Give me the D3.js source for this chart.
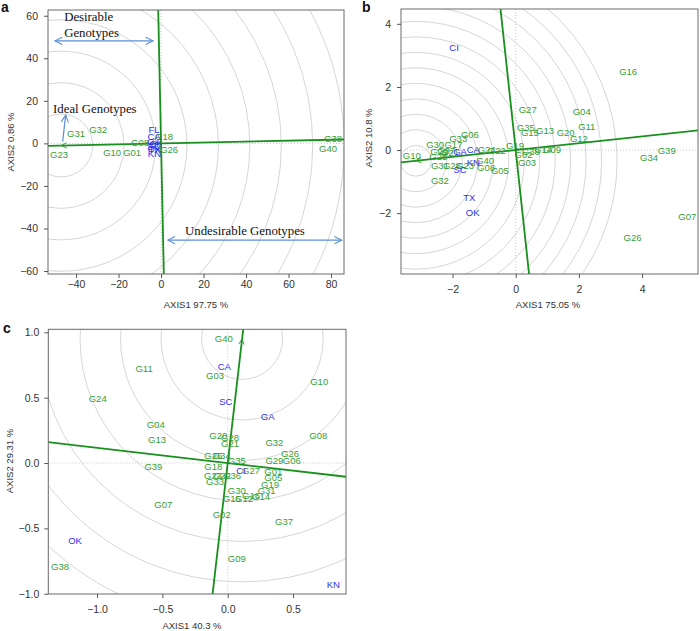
<!DOCTYPE html>
<html><head><meta charset="utf-8">
<script src="https://cdn.jsdelivr.net/npm/d3@7"></script>
<style>body{margin:0;background:#fff}svg{display:block}</style>
</head><body>
<svg id="chart" width="700" height="631"></svg>
<script>
// ---------------- DATA ----------------
// Panel a
const genotypesA = [
  {id:"G31",x:-40,y:4.8},{id:"G32",x:-29.6,y:6.7},{id:"G23",x:-48,y:-5},
  {id:"G10",x:-23,y:-4.5},{id:"G01",x:-13.6,y:-4.5},{id:"G08",x:-9.9,y:0.6},
  {id:"G18",x:1.4,y:3.4},{id:"G26",x:3.8,y:-2.7},{id:"G38",x:81,y:2.5},{id:"G40",x:78.6,y:-2.2}
];
const environmentsA = [
  {id:"FL",x:-3.3,y:6.4},{id:"CA",x:-3.3,y:3.3},{id:"GA",x:-3.3,y:1.1},{id:"CI",x:-3.2,y:-0.2},
  {id:"SC",x:-3.3,y:-1.3},{id:"OK",x:-3.2,y:-2.2},{id:"TX",x:-3.1,y:-3.1},{id:"KN",x:-3.1,y:-4.9}
];
const idealA = [-47, -1.0];
const xTicksA = [-40,-20,0,20,40,60,80];
const yTicksA = [-60,-40,-20,0,20,40,60];
const xTitleA = "AXIS1 97.75 %", yTitleA = "AXIS2 0.86 %";

// Panel b
const genotypesB = [
  {id:"G16",x:3.56,y:2.5},{id:"G27",x:0.38,y:1.28},{id:"G04",x:2.09,y:1.23},{id:"G11",x:2.25,y:0.76},
  {id:"G35",x:0.32,y:0.71},{id:"G15",x:0.45,y:0.54},{id:"G13",x:0.93,y:0.62},{id:"G20",x:1.58,y:0.56},
  {id:"G12",x:2.0,y:0.36},{id:"G39",x:4.78,y:0.0},{id:"G34",x:4.22,y:-0.24},{id:"G07",x:5.43,y:-2.12},
  {id:"G26",x:3.70,y:-2.77},{id:"G19",x:-0.02,y:0.14},{id:"G02",x:0.25,y:-0.14},{id:"G38",x:0.48,y:-0.06},
  {id:"G14",x:0.87,y:0.02},{id:"G09",x:1.15,y:0.01},{id:"G03",x:0.36,y:-0.39},{id:"G10",x:-3.29,y:-0.17},
  {id:"G30",x:-2.55,y:0.17},{id:"G17",x:-1.97,y:0.17},{id:"G33",x:-1.82,y:0.36},{id:"G06",x:-1.45,y:0.50},
  {id:"G24",x:-0.92,y:0.01},{id:"G22",x:-0.60,y:-0.03},{id:"G29",x:-2.42,y:-0.05},{id:"G25",x:-2.45,y:-0.22},
  {id:"G21",x:-2.08,y:-0.07},{id:"G37",x:-2.2,y:-0.02},{id:"G31",x:-2.40,y:-0.50},{id:"G28",x:-2.02,y:-0.48},
  {id:"G23",x:-1.60,y:-0.48},{id:"G40",x:-0.97,y:-0.33},{id:"G08",x:-0.94,y:-0.54},{id:"G05",x:-0.50,y:-0.64},
  {id:"G32",x:-2.40,y:-0.98}
];
const environmentsB = [
  {id:"CI",x:-1.95,y:3.26},{id:"GA",x:-1.76,y:-0.06},{id:"CA",x:-1.34,y:0.02},{id:"SC",x:-1.76,y:-0.61},
  {id:"KN",x:-1.34,y:-0.40},{id:"TX",x:-1.47,y:-1.52},{id:"OK",x:-1.36,y:-1.98}
];
const idealB = [-3.16, -0.34];
const xTicksB = [-2,0,2,4];
const yTicksB = [-2,0,2,4];
const xTitleB = "AXIS1 75.05 %", yTitleB = "AXIS2 10.8 %";

// Panel c
const genotypesC = [
  {id:"G40",x:-0.03,y:0.949},{id:"G03",x:-0.097,y:0.668},{id:"G11",x:-0.64,y:0.725},{id:"G10",x:0.70,y:0.622},
  {id:"G24",x:-0.995,y:0.49},{id:"G04",x:-0.551,y:0.296},{id:"G08",x:0.693,y:0.207},{id:"G13",x:-0.541,y:0.178},
  {id:"G20",x:-0.072,y:0.207},{id:"G28",x:0.018,y:0.197},{id:"G21",x:0.018,y:0.151},{id:"G32",x:0.357,y:0.155},
  {id:"G26",x:0.477,y:0.074},{id:"G06",x:0.490,y:0.023},{id:"G29",x:0.357,y:0.023},{id:"G35",x:0.069,y:0.018},
  {id:"G34",x:-0.046,y:0.061},{id:"G25",x:-0.110,y:0.054},{id:"G18",x:-0.110,y:-0.023},{id:"G39",x:-0.569,y:-0.028},
  {id:"G27",x:0.178,y:-0.061},{id:"G01",x:0.349,y:-0.067},{id:"G05",x:0.349,y:-0.109},{id:"G23",x:-0.112,y:-0.099},
  {id:"G22",x:-0.044,y:-0.099},{id:"G36",x:0.033,y:-0.099},{id:"G33",x:-0.097,y:-0.143},{id:"G19",x:0.324,y:-0.168},
  {id:"G31",x:0.298,y:-0.212},{id:"G30",x:0.069,y:-0.207},{id:"G15",x:0.031,y:-0.275},{id:"G12",x:0.125,y:-0.272},
  {id:"G16",x:0.178,y:-0.252},{id:"G14",x:0.255,y:-0.256},{id:"G07",x:-0.493,y:-0.321},{id:"G02",x:-0.046,y:-0.393},
  {id:"G37",x:0.431,y:-0.449},{id:"G09",x:0.069,y:-0.734},{id:"G38",x:-1.283,y:-0.793}
];
const environmentsC = [
  {id:"CA",x:-0.026,y:0.74},{id:"SC",x:-0.015,y:0.469},{id:"GA",x:0.306,y:0.357},{id:"CI",x:0.102,y:-0.061},
  {id:"OK",x:-1.168,y:-0.589},{id:"KN",x:0.808,y:-0.933}
];
const idealC = [0.11, 0.95];
const xTicksC = [-1.0,-0.5,0.0,0.5];
const yTicksC = [-1.0,-0.5,0.0,0.5,1.0];
const xTitleC = "AXIS1 40.3 %", yTitleC = "AXIS2 29.31 %";

// ---------------- DRAWING ----------------
const svg = d3.select("#chart");
const SANS = "'Liberation Sans', Arial, sans-serif";
const SERIF = "'Liberation Serif', 'Times New Roman', serif";
const GREEN_TXT = "#34a034", BLUE_TXT = "#2f2ff8", LINE_GREEN = "#17901c", RING = "#d6d6d6";

const defs = svg.append("defs");
defs.append("marker").attr("id","barrow").attr("viewBox","0 0 10 10").attr("refX",9).attr("refY",5)
  .attr("markerWidth",9).attr("markerHeight",9).attr("orient","auto-start-reverse").attr("markerUnits","userSpaceOnUse")
  .append("path").attr("d","M1,1 L9,5 L1,9").attr("fill","none").attr("stroke","#5b8fd4").attr("stroke-width",1.2);

function panel(cfg){
  const {name, box, xDom, yDom, ringStep, ringCount} = cfg;
  const x = d3.scaleLinear().domain(xDom).range([box.x0, box.x1]);
  const y = d3.scaleLinear().domain(yDom).range([box.y1, box.y0]);
  const k = x(1) - x(0);
  const g = svg.append("g");
  defs.append("clipPath").attr("id","clip"+name).append("rect")
    .attr("x",box.x0).attr("y",box.y0).attr("width",box.x1-box.x0).attr("height",box.y1-box.y0);
  const inner = g.append("g").attr("clip-path",`url(#clip${name})`);
  const [ix, iy] = cfg.ideal;
  inner.selectAll("circle").data(d3.range(1, ringCount+1)).join("circle")
    .attr("cx", x(ix)).attr("cy", y(iy)).attr("r", d => d*ringStep*k)
    .attr("fill","none").attr("stroke",RING).attr("stroke-width",1);
  inner.append("line").attr("x1",x(0)).attr("x2",x(0)).attr("y1",box.y0).attr("y2",box.y1)
    .attr("stroke","#c8c8c8").attr("stroke-dasharray","1,2");
  inner.append("line").attr("x1",box.x0).attr("x2",box.x1).attr("y1",y(0)).attr("y2",y(0))
    .attr("stroke","#c8c8c8").attr("stroke-dasharray","1,2");
  const T = 60;
  inner.append("line").attr("x1",x(-ix*T)).attr("y1",y(-iy*T)).attr("x2",x(ix*T)).attr("y2",y(iy*T))
    .attr("stroke",LINE_GREEN).attr("stroke-width",1.8);
  inner.append("line").attr("x1",x(iy*T)).attr("y1",y(-ix*T)).attr("x2",x(-iy*T)).attr("y2",y(ix*T))
    .attr("stroke",LINE_GREEN).attr("stroke-width",1.8);
  const px = x(ix), py = y(iy);
  const ang = Math.atan2(py - y(0), px - x(0));
  const ah = 6, spread = Math.PI/7;
  inner.append("path").attr("d",
    `M${px - ah*Math.cos(ang-spread)},${py - ah*Math.sin(ang-spread)} L${px},${py} L${px - ah*Math.cos(ang+spread)},${py - ah*Math.sin(ang+spread)}`)
    .attr("fill","none").attr("stroke",GREEN_TXT).attr("stroke-width",1);
  g.append("rect").attr("x",box.x0).attr("y",box.y0).attr("width",box.x1-box.x0).attr("height",box.y1-box.y0)
    .attr("fill","none").attr("stroke","#6a6a6a").attr("stroke-width",1);
  const ax = g.append("g").attr("transform",`translate(0,${box.y1})`)
    .call(d3.axisBottom(x).tickValues(cfg.xTicks).tickFormat(cfg.fmt).tickSize(4).tickPadding(cfg.xPad));
  const ay = g.append("g").attr("transform",`translate(${box.x0},0)`)
    .call(d3.axisLeft(y).tickValues(cfg.yTicks).tickFormat(cfg.fmt).tickSize(4).tickPadding(cfg.yPad));
  [ax, ay].forEach(a => {
    a.select(".domain").remove();
    a.selectAll("line").attr("stroke","#555");
    a.selectAll("text").attr("font-family",SANS).attr("font-size",10.5).attr("fill","#333");
  });
  g.append("text").attr("x",cfg.xTitlePos[0]).attr("y",cfg.xTitlePos[1]).attr("text-anchor","middle")
    .attr("font-family",SANS).attr("font-size",9.5).attr("fill","#333").text(cfg.xTitle);
  g.append("text").attr("transform",`translate(${cfg.yTitlePos[0]},${cfg.yTitlePos[1]}) rotate(-90)`)
    .attr("text-anchor","middle").attr("dominant-baseline","central")
    .attr("font-family",SANS).attr("font-size",9.5).attr("fill","#333").text(cfg.yTitle);
  g.append("text").attr("x",cfg.letterPos[0]).attr("y",cfg.letterPos[1]).attr("font-family",SANS)
    .attr("font-weight","bold").attr("font-size",14).attr("fill","#111").text(cfg.letter);
  const lab = g.append("g").attr("font-family",SANS).attr("font-size",9.5)
    .attr("text-anchor","middle").attr("dominant-baseline","central");
  lab.selectAll("text.gen").data(cfg.genotypes).join("text").attr("class","gen")
    .attr("x",d=>x(d.x)).attr("y",d=>y(d.y)).attr("fill",GREEN_TXT).text(d=>d.id);
  lab.selectAll("text.env").data(cfg.environments).join("text").attr("class","env")
    .attr("x",d=>x(d.x)).attr("y",d=>y(d.y)).attr("fill",BLUE_TXT).text(d=>d.id);
  return {x, y, g};
}

const fmtInt = d3.format("d"), fmt1 = d3.format(".1f");

const A = panel({name:"a", letter:"a", letterPos:[1,12],
  box:{x0:48,x1:344,y0:10,y1:274}, xDom:[-53.2,86.1], yDom:[-61.4,62.7],
  ideal:idealA, ringStep:14.8, ringCount:11, xTicks:xTicksA, yTicks:yTicksA, fmt:fmtInt, xPad:3, yPad:6,
  xTitle:xTitleA, yTitle:yTitleA, xTitlePos:[196,308], yTitlePos:[10,142],
  genotypes:genotypesA, environments:environmentsA});

const B = panel({name:"b", letter:"b", letterPos:[362,12],
  box:{x0:401,x1:698,y0:9,y1:274}, xDom:[-3.63,5.77], yDom:[-3.93,4.47],
  ideal:idealB, ringStep:0.49, ringCount:13, xTicks:xTicksB, yTicks:yTicksB, fmt:fmtInt, xPad:8, yPad:6,
  xTitle:xTitleB, yTitle:yTitleB, xTitlePos:[548,308], yTitlePos:[368,138],
  genotypes:genotypesB, environments:environmentsB});

const C = panel({name:"c", letter:"c", letterPos:[3,333],
  box:{x0:48.3,x1:346,y0:329.3,y1:594}, xDom:[-1.373,0.905], yDom:[-1.002,1.023],
  ideal:idealC, ringStep:0.31, ringCount:9, xTicks:xTicksC, yTicks:yTicksC, fmt:fmt1, xPad:8, yPad:5,
  xTitle:xTitleC, yTitle:yTitleC, xTitlePos:[192,629], yTitlePos:[9,461],
  genotypes:genotypesC, environments:environmentsC});

// Panel a annotations (data coordinates)
const ann = A.g.append("g");
const arrowA = [
  {x1:-49.9,y1:48.2,x2:-3.8,y2:48.2,both:true},
  {x1:3.2,y1:-45.5,x2:85,y2:-45.5,both:true},
  {x1:-46.3,y1:0.75,x2:-44.9,y2:13.3,both:false}
];
ann.selectAll("line").data(arrowA).join("line")
  .attr("x1",d=>A.x(d.x1)).attr("y1",d=>A.y(d.y1)).attr("x2",d=>A.x(d.x2)).attr("y2",d=>A.y(d.y2))
  .attr("stroke","#5b8fd4").attr("stroke-width",1.2)
  .attr("marker-end","url(#barrow)").attr("marker-start",d=>d.both?"url(#barrow)":null);
const annText = [
  {t:"Desirable",x:-45.6,y:57.5},{t:"Genotypes",x:-45.6,y:50},
  {t:"Ideal Genotypes",x:-50.8,y:14.2},{t:"Undesirable Genotypes",x:11.3,y:-43.1}
];
ann.selectAll("text").data(annText).join("text").attr("x",d=>A.x(d.x)).attr("y",d=>A.y(d.y))
  .attr("font-family",SERIF).attr("font-size",12.8).attr("fill","#111").text(d=>d.t);
</script>
</body></html>
